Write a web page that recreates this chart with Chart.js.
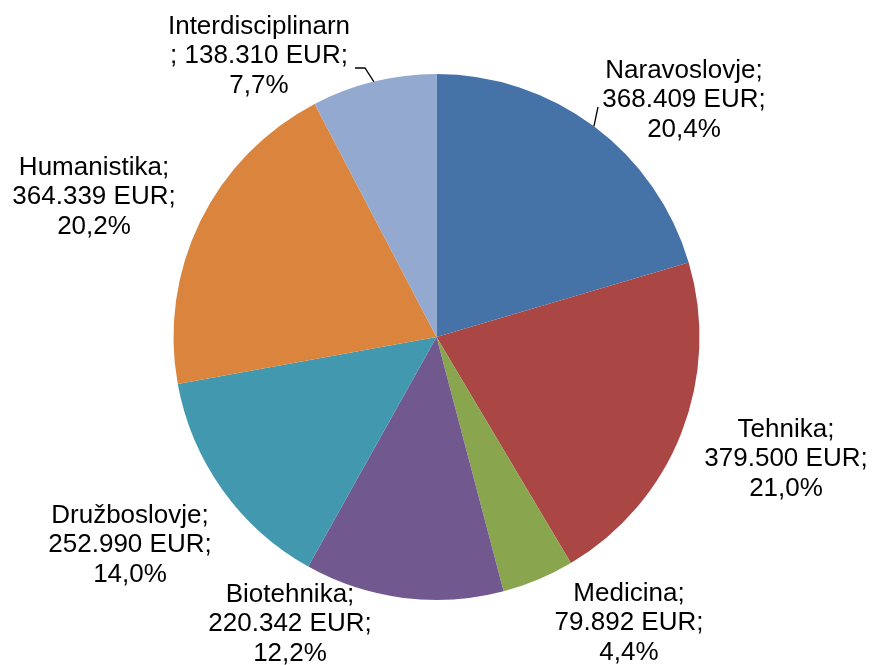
<!DOCTYPE html>
<html>
<head>
<meta charset="utf-8">
<script src="https://cdn.jsdelivr.net/npm/chart.js@4"></script>
<style>
  html, body { margin: 0; padding: 0; background: #ffffff; }
  #wrap { width: 873px; height: 665px; position: relative; }
</style>
</head>
<body>
<div id="wrap"><canvas id="c" width="873" height="665"></canvas></div>
<script>
// ---- data ----
const categories = ['Naravoslovje', 'Tehnika', 'Medicina', 'Biotehnika', 'Družboslovje', 'Humanistika', 'Interdisciplinarn'];
const values = [368409, 379500, 79892, 220342, 252990, 364339, 138310];
const colors = ['#4572A7', '#AA4643', '#89A54E', '#71588F', '#4198AF', '#DB843D', '#93A9CF'];

// ---- label layout (text block centre x, baseline of middle line; optional leader path) ----
const labelLayout = [
  { x: 684, y: 107, leader: [[598, 107]] },
  { x: 786, y: 466 },
  { x: 629, y: 630 },
  { x: 290, y: 631 },
  { x: 130, y: 552 },
  { x: 94,  y: 204 },
  { x: 259, y: 63, leader: [[365, 68], [355, 68]], nameOwnLine: true }
];

const total = values.reduce((a, b) => a + b, 0);
function fmtThousands(v) { return v.toString().replace(/\B(?=(\d{3})+(?!\d))/g, '.'); }
function fmtPct(v) { return (v / total * 100).toFixed(1).replace('.', ',') + '%'; }

const labelPlugin = {
  id: 'pieLabels',
  afterDatasetsDraw(chart) {
    const ctx = chart.ctx;
    const meta = chart.getDatasetMeta(0);
    ctx.save();
    ctx.font = '26px "Liberation Sans", Arial, sans-serif';
    ctx.fillStyle = '#000000';
    ctx.textAlign = 'center';
    ctx.textBaseline = 'alphabetic';
    const lh = 29.5;
    meta.data.forEach((arc, i) => {
      const p = arc.getProps(['x', 'y', 'startAngle', 'endAngle', 'outerRadius'], true);
      const L = labelLayout[i];
      const lines = L.nameOwnLine
        ? [categories[i], '; ' + fmtThousands(values[i]) + ' EUR;', fmtPct(values[i])]
        : [categories[i] + ';', fmtThousands(values[i]) + ' EUR;', fmtPct(values[i])];
      lines.forEach((t, k) => ctx.fillText(t, L.x, L.y + (k - 1) * lh));
      if (L.leader) {
        const mid = (p.startAngle + p.endAngle) / 2;
        const sx = p.x + Math.cos(mid) * p.outerRadius;
        const sy = p.y + Math.sin(mid) * p.outerRadius;
        ctx.beginPath();
        ctx.strokeStyle = '#000000';
        ctx.lineWidth = 1.3;
        ctx.moveTo(sx, sy);
        L.leader.forEach(pt => ctx.lineTo(pt[0], pt[1]));
        ctx.stroke();
      }
    });
    ctx.restore();
  }
};

new Chart(document.getElementById('c'), {
  type: 'pie',
  data: {
    labels: categories,
    datasets: [{
      data: values,
      backgroundColor: colors,
      borderWidth: 0,
      hoverOffset: 0
    }]
  },
  options: {
    responsive: false,
    animation: false,
    events: [],
    layout: { padding: { top: 74, bottom: 65, left: 0, right: 0 } },
    plugins: { legend: { display: false }, tooltip: { enabled: false } }
  },
  plugins: [labelPlugin]
});
</script>
</body>
</html>
